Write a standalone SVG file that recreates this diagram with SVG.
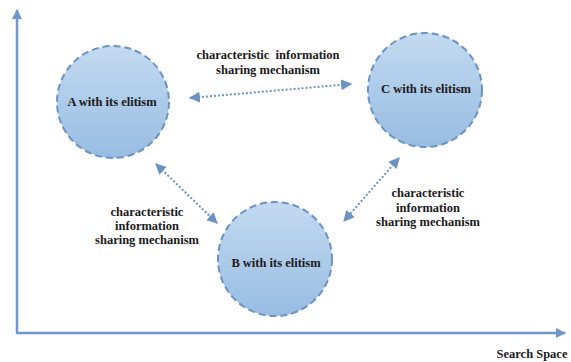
<svg xmlns="http://www.w3.org/2000/svg" width="571" height="362" viewBox="0 0 571 362">
<style>
.lbl{font-family:"Liberation Serif","Times New Roman",serif;font-weight:bold;font-size:12.5px;fill:#1a1a1a;text-anchor:middle}
.node circle{fill:url(#g);stroke:#6a92c2;stroke-width:2;stroke-dasharray:7 4}
.conn{stroke:#6a92c2;stroke-width:2;stroke-dasharray:2 2;fill:none;marker-start:url(#ah);marker-end:url(#ah)}
.axis{stroke:#6f97c9;stroke-width:2.5;fill:none}
</style>
<defs>
<linearGradient id="g" x1="0" y1="0" x2="0" y2="1">
<stop offset="0" stop-color="#c3daf0"/>
<stop offset="1" stop-color="#98bce2"/>
</linearGradient>
<marker id="ah" viewBox="0 0 10 10" refX="9" refY="5" markerWidth="5.5" markerHeight="5.5" orient="auto-start-reverse" markerUnits="strokeWidth">
<path d="M0,0 L10,5 L0,10 z" fill="#6a92c2"/>
</marker>
<marker id="ax" viewBox="0 0 10 10" refX="9" refY="5" markerWidth="4" markerHeight="4" orient="auto" markerUnits="strokeWidth">
<path d="M0,0 L10,5 L0,10 z" fill="#6f97c9"/>
</marker>
</defs>
<g id="axes">
<path class="axis" d="M17,333 V10" marker-end="url(#ax)"/>
<path class="axis" d="M16,333 H565" marker-end="url(#ax)"/>
<text class="lbl" x="532" y="358">Search Space</text>
</g>
<g id="connectors">
<path class="conn" d="M190,98 L351,84"/>
<path class="conn" d="M156,164 L217,223"/>
<path class="conn" d="M399,158 L344,221"/>
</g>
<g id="A" class="node">
<circle cx="113" cy="102" r="56"/>
<text class="lbl" x="112" y="106">A with its elitism</text>
</g>
<g id="C" class="node">
<circle cx="425" cy="90" r="57"/>
<text class="lbl" x="426" y="93">C with its elitism</text>
</g>
<g id="B" class="node">
<circle cx="275" cy="259" r="57"/>
<text class="lbl" x="276" y="267">B with its elitism</text>
</g>
<g id="labels">
<text class="lbl" x="268" y="59" xml:space="preserve" style="white-space:pre">characteristic  information</text>
<text class="lbl" x="268" y="74">sharing mechanism</text>
<text class="lbl" x="147" y="216">characteristic</text>
<text class="lbl" x="147" y="230">information</text>
<text class="lbl" x="147" y="244">sharing mechanism</text>
<text class="lbl" x="428" y="197">characteristic</text>
<text class="lbl" x="428" y="212">information</text>
<text class="lbl" x="428" y="226">sharing mechanism</text>
</g>
</svg>
